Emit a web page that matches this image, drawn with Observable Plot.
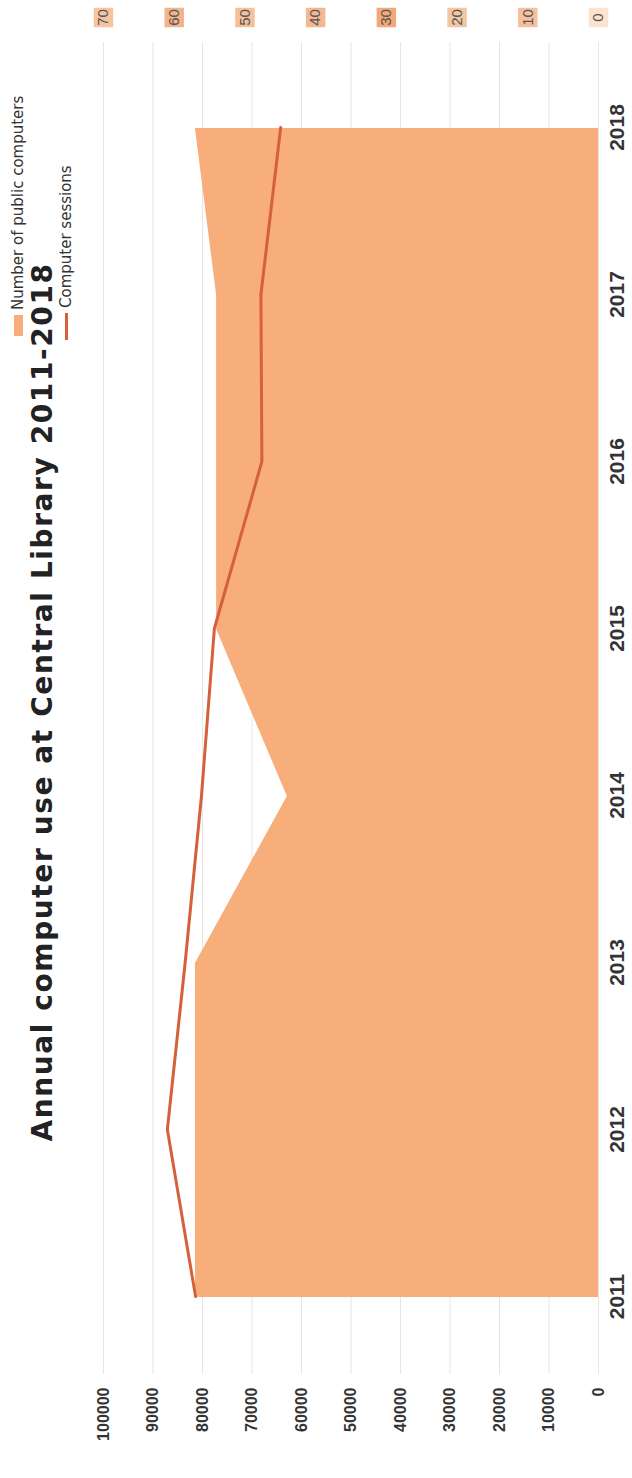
<!DOCTYPE html>
<html>
<head>
<meta charset="utf-8">
<script src="https://cdn.jsdelivr.net/npm/d3@7"></script>
<script src="https://cdn.jsdelivr.net/npm/@observablehq/plot@0.6"></script>
<style>
  html, body { margin: 0; padding: 0; background: #fff; }
  #page { position: relative; width: 632px; height: 1478px; overflow: hidden; background: #fff; }
  #fig {
    position: absolute; left: 0; top: 0; width: 1478px; height: 632px;
    transform-origin: 0 0; transform: translateY(1478px) rotate(-90deg);
    font-family: "DejaVu Sans", sans-serif; color: #262626;
  }
  #title {
    position: absolute; top: 29px; left: 776px; transform: translateX(-50%);
    white-space: nowrap; font-size: 28px; font-weight: bold; line-height: 1;
    letter-spacing: 1.6px; color: #222;
  }
  .leg { position: absolute; white-space: nowrap; font-size: 15px; line-height: 1; color: #333;
         font-family: "DejaVu Sans", sans-serif; }
  .sw { display: inline-block; vertical-align: middle; margin-right: 5px; }
  #plot { position: absolute; left: 0; top: 0; }
</style>
</head>
<body>
<div id="page">
  <div id="fig">
    <div id="title">Annual computer use at Central Library 2011-2018</div>
    <div class="leg" style="left:1142px; top:11px;"><span class="sw" style="width:21px;height:9px;background:#F8AE7B;"></span>Number of public computers</div>
    <div class="leg" style="left:1138px; top:59px;"><span class="sw" style="width:27px;height:3px;background:#D4603C;"></span>Computer sessions</div>
    <div id="plot"></div>
  </div>
</div>
<script>
// ---- data ----
const years = [2011, 2012, 2013, 2014, 2015, 2016, 2017, 2018];
const computers = [57, 57, 57, 44, 54, 54, 54, 57];
const sessions = [81400, 87100, 83500, 80200, 77600, 68000, 68200, 64200];
const leftTicks = [0, 10000, 20000, 30000, 40000, 50000, 60000, 70000, 80000, 90000, 100000];
const rightTicks = [0, 10, 20, 30, 40, 50, 60, 70];
// ---- styles ----
const boxFills = ["#FBE3D0", "#F4C19C", "#F3C6A2", "#F2A877", "#F3B893", "#F5C09A", "#F3B48A", "#F6C5A0"];
const areaColor = "#F8AE7B";
const lineColor = "#D4603C";

const scaleRatio = 100000 / 70; // right axis (0-70) mapped onto left axis (0-100000)
const rows = years.map((y, i) => ({year: y, computers: computers[i], sessions: sessions[i]}));
const right = rightTicks.map((t, i) => ({t, fill: boxFills[i]}));

const chart = Plot.plot({
  width: 1478,
  height: 632,
  marginTop: 103,
  marginBottom: 34,
  marginLeft: 104,
  marginRight: 42,
  style: {background: "transparent", fontFamily: "'Liberation Sans', Arial, sans-serif"},
  x: {type: "point", domain: years, range: [178, 1352], padding: 0, label: null},
  y: {domain: [0, 100000], label: null},
  marks: [
    Plot.ruleY(leftTicks, {stroke: "#E6E6E6", strokeWidth: 1}),
    Plot.areaY(rows, {x: "year", y1: 0, y2: d => d.computers * scaleRatio, fill: areaColor, curve: "linear"}),
    Plot.lineY(rows, {x: "year", y: "sessions", stroke: lineColor, strokeWidth: 3, curve: "linear"}),
    Plot.axisX({tickSize: 0, tickPadding: 11, fontSize: 21, fontWeight: "bold", fill: "#333", label: null,
                fontFamily: "'Liberation Sans Narrow', 'Liberation Sans', sans-serif", tickFormat: d => String(d)}),
    Plot.axisY({anchor: "left", ticks: leftTicks, tickSize: 0, tickPadding: 14, fontSize: 16, fontWeight: "bold",
                fill: "#333", label: null, tickFormat: d => String(d)}),
    Plot.dot(right, {y: d => d.t * scaleRatio, frameAnchor: "right", dx: 24, symbol: "square", r: 11, fill: d => d.fill}),
    Plot.text(right, {y: d => d.t * scaleRatio, frameAnchor: "right", dx: 24, text: d => String(d.t), textAnchor: "middle",
                      fontSize: 15, fill: "#555"})
  ]
});
document.getElementById("plot").appendChild(chart);
</script>
</body>
</html>
